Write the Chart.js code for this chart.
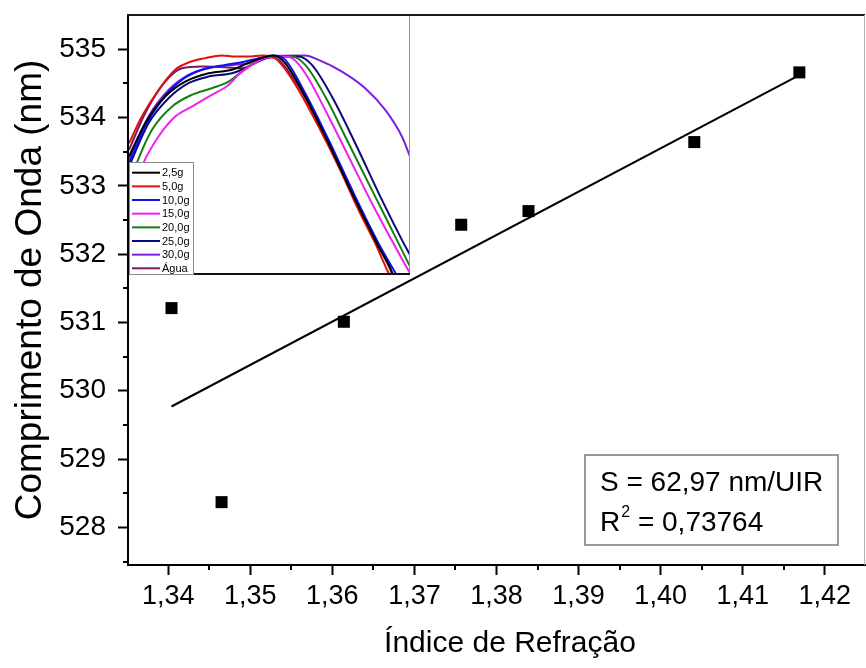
<!DOCTYPE html>
<html><head><meta charset="utf-8">
<script src="https://cdn.jsdelivr.net/npm/chart.js@4/dist/chart.umd.min.js"></script>
<style>
html,body{margin:0;padding:0;background:#fff;}
#wrap{position:relative;width:866px;height:668px;overflow:hidden;background:#fff;}
#main{position:absolute;left:0;top:0;}
#inset{position:absolute;left:129px;top:16px;background:#fff;}
</style></head><body>
<div id="wrap"><canvas id="main" width="866" height="668"></canvas><canvas id="inset" width="281" height="259"></canvas></div>
<script>
// ---- main chart data ----
const refractiveIndex = [1.3404, 1.3465, 1.3614, 1.3757, 1.3839, 1.4041, 1.4169];
const wavelengthNm   = [531.21, 528.37, 531.01, 532.43, 532.63, 533.64, 534.66];
const fitX = [1.3404, 1.4169];
const fitY = [529.77, 534.62];
const xTicks = [1.34, 1.35, 1.36, 1.37, 1.38, 1.39, 1.40, 1.41, 1.42];
const yTicks = [528, 529, 530, 531, 532, 533, 534, 535];
const xMinorTicks = [1.335, 1.345, 1.355, 1.365, 1.375, 1.385, 1.395, 1.405, 1.415];
const yMinorTicks = [527.5, 528.5, 529.5, 530.5, 531.5, 532.5, 533.5, 534.5];
const xTitle = 'Índice de Refração';
const yTitle = 'Comprimento de Onda (nm)';
const slopeText = 'S = 62,97 nm/UIR';
const r2Text = ' = 0,73764';

// ---- inset spectra (wavelength nm, normalized intensity) ----
const spectraLabels = ['2,5g', '5,0g', '10,0g', '15,0g', '20,0g', '25,0g', '30,0g', 'Água'];
const spectraColors = ['#000000', '#e01010', '#1010f0', '#f020f0', '#128012', '#0a0a78', '#7a20e0', '#7a1a66'];
const spectrum_2_5g = [[520.4,0.540],[522.1,0.691],[524.2,0.813],[526.3,0.881],[528.75,0.919],[531.2,0.935],[533.3,0.973],[534.9,0.995],[535.6,1.000],[536.8,0.965],[538.9,0.813],[541.35,0.600],[544.15,0.342],[546.6,0.129],[548.2,-0.008],[549.0,-0.15]];
const spectrum_5_0g = [[520.4,0.600],[521.75,0.722],[523.5,0.843],[525.25,0.935],[526.65,0.968],[528.4,0.988],[530.15,1.000],[531.55,0.995],[532.95,0.995],[534.35,1.000],[535.4,0.995],[536.45,0.957],[538.2,0.843],[540.3,0.676],[542.4,0.494],[544.5,0.296],[546.25,0.144],[547.65,0.008],[548.35,-0.053]];
const spectrum_10_0g = [[520.4,0.509],[522.1,0.676],[523.85,0.798],[525.95,0.889],[528.05,0.935],[530.5,0.957],[532.6,0.973],[534.0,0.988],[535.4,1.000],[536.8,0.980],[538.9,0.828],[541.35,0.616],[544.15,0.357],[546.6,0.144],[548.5,0.000],[548.9,-0.030]];
const spectrum_15_0g = [[520.4,0.330],[521.4,0.448],[521.9,0.509],[523.5,0.631],[525.25,0.722],[527.0,0.767],[529.1,0.821],[530.85,0.866],[531.9,0.912],[533.3,0.957],[534.7,0.988],[536.45,0.995],[537.5,0.988],[538.9,0.919],[541.0,0.752],[543.45,0.540],[545.9,0.327],[548.35,0.129],[549.9,0.008]];
const spectrum_20_0g = [[520.4,0.400],[520.7,0.448],[521.2,0.509],[522.8,0.661],[524.9,0.767],[527.0,0.821],[529.1,0.851],[530.85,0.881],[532.25,0.927],[534.0,0.980],[535.05,0.995],[537.5,0.995],[538.9,0.957],[541.0,0.813],[543.45,0.600],[546.25,0.357],[548.7,0.144],[549.9,0.038]];
const spectrum_25_0g = [[520.4,0.494],[522.45,0.691],[524.55,0.805],[526.65,0.874],[528.75,0.904],[531.2,0.919],[532.6,0.942],[534.35,0.980],[535.75,0.995],[538.2,0.995],[539.6,0.957],[541.7,0.813],[544.15,0.600],[546.95,0.342],[549.05,0.160],[549.9,0.091]];
const spectrum_30_0g = [[520.4,0.524],[522.45,0.722],[524.55,0.843],[526.65,0.912],[528.75,0.942],[531.2,0.957],[532.95,0.965],[534.35,0.988],[535.75,0.998],[538.9,1.000],[540.3,0.980],[542.75,0.927],[545.2,0.851],[547.3,0.752],[549.05,0.631],[549.9,0.540]];
const spectrum_agua = [[520.4,0.570],[522.1,0.737],[524.2,0.881],[525.95,0.942],[528.05,0.950],[530.5,0.947],[532.25,0.942],[534.0,0.973],[535.05,0.992],[536.1,0.980],[538.2,0.859],[540.65,0.661],[543.45,0.418],[546.25,0.160],[548.0,0.008],[548.4,-0.04]];
const spectra = [spectrum_2_5g, spectrum_5_0g, spectrum_10_0g, spectrum_15_0g, spectrum_20_0g, spectrum_25_0g, spectrum_30_0g, spectrum_agua];

const FAMILY = '"Liberation Sans", Arial, Helvetica, sans-serif';

const framePlugin = {
  id: 'frame',
  afterDraw(chart) {
    const {ctx, chartArea: a, scales: {x, y}} = chart;
    ctx.save();
    // top and right frame
    ctx.strokeStyle = '#1a1a1a'; ctx.lineWidth = 2;
    ctx.beginPath(); ctx.moveTo(a.left - 1, a.top); ctx.lineTo(a.right, a.top); ctx.stroke();
    ctx.strokeStyle = '#b0b0b0'; ctx.lineWidth = 1;
    ctx.beginPath(); ctx.moveTo(a.right - 0.5, a.top); ctx.lineTo(a.right - 0.5, a.bottom); ctx.stroke();
    // minor ticks
    ctx.strokeStyle = '#000'; ctx.lineWidth = 2;
    xMinorTicks.forEach(v => {
      if (v <= x.min || v >= x.max) return;
      const px = Math.round(x.getPixelForValue(v));
      ctx.beginPath(); ctx.moveTo(px, a.bottom); ctx.lineTo(px, a.bottom + 5); ctx.stroke();
    });
    yMinorTicks.forEach(v => {
      if (v <= y.min || v >= y.max) return;
      const py = Math.round(y.getPixelForValue(v));
      ctx.beginPath(); ctx.moveTo(a.left, py); ctx.lineTo(a.left - 5, py); ctx.stroke();
    });
    // x axis title
    ctx.fillStyle = '#000'; ctx.textAlign = 'center'; ctx.textBaseline = 'middle';
    ctx.font = '30px ' + FAMILY;
    ctx.fillText(xTitle, 510, 644);
    // annotation box
    const bx = 585, by = 455, bw = 253, bh = 90;
    ctx.fillStyle = '#fff'; ctx.fillRect(bx, by, bw, bh);
    ctx.strokeStyle = '#7a7a7a'; ctx.lineWidth = 1.5;
    ctx.strokeRect(bx, by, bw, bh);
    ctx.fillStyle = '#000'; ctx.textBaseline = 'alphabetic'; ctx.textAlign = 'left';
    ctx.font = '28px ' + FAMILY;
    ctx.fillText(slopeText, 600, 491);
    ctx.fillText('R', 600, 531);
    const rw = ctx.measureText('R').width;
    ctx.font = '16px ' + FAMILY;
    ctx.fillText('2', 600 + rw + 1, 517);
    const tw = ctx.measureText('2').width;
    ctx.font = '28px ' + FAMILY;
    ctx.fillText(r2Text, 600 + rw + tw + 1, 531);
    ctx.restore();
  }
};

new Chart(document.getElementById('main'), {
  type: 'scatter',
  data: {
    datasets: [
      { label: 'Dados', data: refractiveIndex.map((v, i) => ({x: v, y: wavelengthNm[i]})),
        pointStyle: 'rect', pointRadius: 8.5, backgroundColor: '#000', borderColor: '#000', borderWidth: 0, order: 1 },
      { label: 'Ajuste linear', type: 'line', data: fitX.map((v, i) => ({x: v, y: fitY[i]})),
        showLine: true, borderColor: '#000', borderWidth: 2, pointRadius: 0, fill: false, order: 2 }
    ]
  },
  options: {
    responsive: false, animation: false, devicePixelRatio: 1,
    layout: {autoPadding: false, padding: {top: 15, right: 1, left: 0, bottom: 0}},
    plugins: {legend: {display: false}, tooltip: {enabled: false}},
    scales: {
      x: {
        type: 'linear', min: 1.3351, max: 1.4249,
        afterBuildTicks: s => { s.ticks = xTicks.map(v => ({value: v})); },
        afterFit: s => { s.height = 103; s.paddingLeft = 0; s.paddingRight = 0; },
        ticks: {callback: v => Number(v).toFixed(2).replace('.', ','), font: {size: 27, family: FAMILY}, color: '#000', padding: 5, maxRotation: 0, autoSkip: false},
        grid: {drawOnChartArea: false, drawTicks: true, tickLength: 10, tickWidth: 2, tickColor: '#000'},
        border: {display: true, color: '#000', width: 2},
        title: {display: false, text: xTitle}
      },
      y: {
        type: 'linear', min: 527.45, max: 535.5,
        afterBuildTicks: s => { s.ticks = yTicks.map(v => ({value: v})); },
        afterFit: s => { s.width = 128; s.paddingTop = 0; s.paddingBottom = 0; },
        ticks: {callback: v => String(v), font: {size: 28, family: FAMILY}, color: '#000', padding: 12, autoSkip: false},
        grid: {drawOnChartArea: false, drawTicks: true, tickLength: 10, tickWidth: 2, tickColor: '#000'},
        border: {display: true, color: '#000', width: 2},
        title: {display: true, text: yTitle, color: '#000', font: {size: 37, family: FAMILY, lineHeight: 1.2}, padding: {top: 9, bottom: 0}}
      }
    }
  },
  plugins: [framePlugin]
});

const insetDecor = {
  id: 'insetDecor',
  afterDatasetsDraw(chart) {
    const {ctx, width, height} = chart;
    ctx.save();
    ctx.strokeStyle = '#909090'; ctx.lineWidth = 1;
    ctx.beginPath(); ctx.moveTo(width - 0.5, 0); ctx.lineTo(width - 0.5, height); ctx.stroke();
    ctx.strokeStyle = '#111'; ctx.lineWidth = 2;
    ctx.beginPath(); ctx.moveTo(0, height - 1); ctx.lineTo(width, height - 1); ctx.stroke();
    const lx = 0, ly = 146, lw = 65, lh = 112;
    ctx.fillStyle = '#fff'; ctx.fillRect(lx, ly, lw, lh);
    ctx.strokeStyle = '#8a8a8a'; ctx.lineWidth = 1;
    ctx.strokeRect(lx + 0.5, ly + 0.5, lw - 1, lh);
    ctx.font = '11px ' + FAMILY; ctx.textBaseline = 'middle'; ctx.textAlign = 'left';
    chart.data.datasets.forEach((ds, i) => {
      const yy = 156.7 + i * 13.66;
      ctx.strokeStyle = ds.borderColor; ctx.lineWidth = 2;
      ctx.beginPath(); ctx.moveTo(3, yy); ctx.lineTo(31, yy); ctx.stroke();
      ctx.fillStyle = '#000';
      ctx.fillText(ds.label, 33, yy + 0.5);
    });
    ctx.restore();
  }
};

new Chart(document.getElementById('inset'), {
  type: 'line',
  data: {
    datasets: spectra.map((s, i) => ({
      label: spectraLabels[i],
      data: s.map(p => ({x: p[0], y: p[1]})),
      borderColor: spectraColors[i], borderWidth: 2, pointRadius: 0, fill: false,
      cubicInterpolationMode: 'monotone'
    }))
  },
  options: {
    responsive: false, animation: false, devicePixelRatio: 1,
    layout: {autoPadding: false, padding: 0},
    plugins: {legend: {display: false}, tooltip: {enabled: false}},
    scales: {
      x: {type: 'linear', min: 520.4, max: 549.9, display: false},
      y: {type: 'linear', min: 0, max: 1.18, display: false}
    }
  },
  plugins: [insetDecor]
});
</script>
</body></html>
